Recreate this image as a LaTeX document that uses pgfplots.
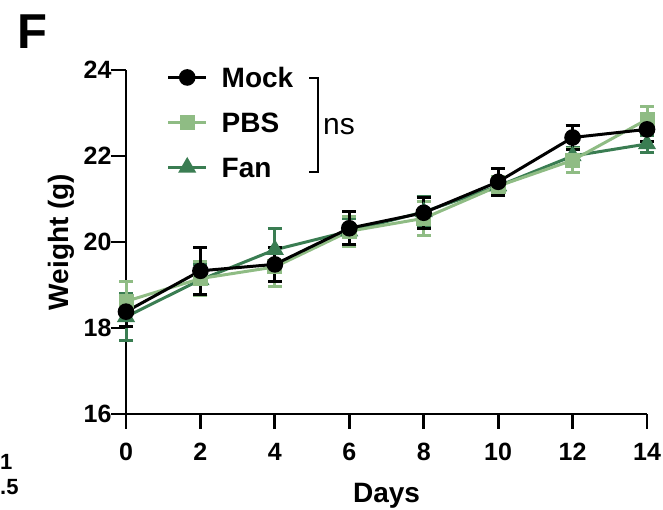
\documentclass[border=0pt]{standalone}
\usepackage{fontspec}
\setmainfont{Liberation Sans}
\usepackage{pgfplots}
\pgfplotsset{compat=1.18}
\definecolor{pbs}{RGB}{143,188,132}
\definecolor{fan}{RGB}{58,125,82}
\begin{document}
\begin{tikzpicture}[x=1pt,y=1pt]
\useasboundingbox (0,0) rectangle (663,510);
\begin{axis}[
  at={(126pt,96pt)}, anchor=south west,
  scale only axis, width=521pt, height=344pt,
  xmin=0, xmax=14, ymin=16, ymax=24,
  xtick={0,2,...,14}, ytick={16,18,...,24},
  axis x line*=bottom, axis y line*=left,
  axis line style={line width=2.8pt, -},
  xtick align=outside, ytick align=outside,
  tick style={line width=2.8pt, black},
  major tick length=15pt,
  /pgf/number format/assume math mode=true,
  ticklabel style={font=\fontsize{25}{25}\selectfont\bfseries},
  xticklabel style={yshift=-11pt},
  yticklabel style={xshift=4pt},
  xlabel={Days}, ylabel={Weight (g)},
  label style={font=\fontsize{28}{28}\selectfont\bfseries},
  xlabel style={yshift=-15pt},
  ylabel style={yshift=2pt},
  clip=false,
  reverse legend,
  legend image code/.code={\draw[mark repeat=2,mark phase=2,#1] plot coordinates {(0pt,0pt)(19pt,0pt)(38pt,0pt)};},
  legend style={draw=none, fill=none, at={(0.072,1.024)}, anchor=north west,
    font=\fontsize{28}{28}\selectfont\bfseries, row sep=18pt,
    nodes={inner sep=3pt, text height=21pt, text depth=0pt, anchor=west}},
  legend cell align=left,
]
\addplot+[fan, line width=3pt, mark=triangle*, mark size=7.5pt, mark options={fan, solid},
  error bars/.cd, y dir=both, y explicit,
  error bar style={line width=3pt, fan},
  error mark options={rotate=90, mark size=7pt, line width=3pt, fan}]
  coordinates {
  (0,18.26) +- (0,0.55)
  (2,19.12) +- (0,0.35)
  (4,19.82) +- (0,0.50)
  (6,20.25) +- (0,0.30)
  (8,20.70) +- (0,0.35)
  (10,21.30) +- (0,0.20)
  (12,22.00) +- (0,0.20)
  (14,22.28) +- (0,0.20)
  };
\addlegendentry{\hspace{11pt}Fan}
\addplot+[pbs, line width=3pt, mark=square*, mark size=6pt, mark options={pbs, solid},
  error bars/.cd, y dir=both, y explicit,
  error bar style={line width=3pt, pbs},
  error mark options={rotate=90, mark size=7pt, line width=3pt, pbs}]
  coordinates {
  (0,18.62) +- (0,0.45)
  (2,19.15) +- (0,0.40)
  (4,19.42) +- (0,0.45)
  (6,20.25) +- (0,0.35)
  (8,20.55) +- (0,0.40)
  (10,21.30) +- (0,0.22)
  (12,21.90) +- (0,0.28)
  (14,22.85) +- (0,0.30)
  };
\addlegendentry{\hspace{11pt}PBS}
\addplot+[black, line width=3pt, mark=*, mark size=6.8pt, mark options={black, solid},
  error bars/.cd, y dir=both, y explicit,
  error bar style={line width=3pt, black},
  error mark options={rotate=90, mark size=7pt, line width=3pt, black}]
  coordinates {
  (0,18.38) +- (0,0.35)
  (2,19.33) +- (0,0.55)
  (4,19.48) +- (0,0.40)
  (6,20.32) +- (0,0.38)
  (8,20.68) +- (0,0.36)
  (10,21.40) +- (0,0.32)
  (12,22.43) +- (0,0.28)
  (14,22.62) +- (0,0.29)
  };
\addlegendentry{\hspace{11pt}Mock}
\end{axis}
% significance bracket
\draw[line width=2.8pt] (309,510-78) -- (318,510-78) -- (318,510-172) -- (309,510-172);
\node[anchor=west, inner sep=0pt, font=\fontsize{30}{30}\selectfont] at (323,510-127) {ns};
% panel letter
\node[anchor=north west, inner sep=0pt, font=\fontsize{49}{49}\selectfont\bfseries] at (17,510-15) {F};
% fragments of neighbouring panel
\node[anchor=west, inner sep=0pt, font=\fontsize{22}{22}\selectfont\bfseries] at (0,510-462) {1};
\node[anchor=west, inner sep=0pt, font=\fontsize{22}{22}\selectfont\bfseries] at (0,510-487) {.5};
\end{tikzpicture}
\end{document}
